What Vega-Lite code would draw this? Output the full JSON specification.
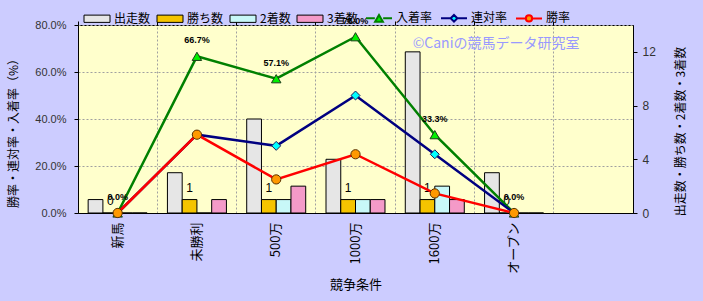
{
  "$schema": "https://vega.github.io/schema/vega-lite/v6.json",
  "width": 555,
  "height": 188,
  "autosize": {"type": "none"},
  "padding": {"left": 78, "top": 25, "right": 70, "bottom": 88},
  "background": "#CCCCFF",
  "config": {
    "font": "Noto Sans CJK JP",
    "view": {"fill": "#FFFFCC", "stroke": "#000000", "strokeWidth": 1},
    "axis": {
      "domainColor": "#000000",
      "tickColor": "#000000",
      "labelColor": "#333333",
      "titleColor": "#000000",
      "titleFontWeight": "normal",
      "gridColor": "#A0A0A0",
      "gridDash": [2, 2],
      "tickSize": 4
    }
  },
  "datasets": {
    "counts": [
      {"cond": "新馬", "series": "出走数", "count": 1},
      {"cond": "新馬", "series": "勝ち数", "count": 0},
      {"cond": "新馬", "series": "2着数", "count": 0},
      {"cond": "新馬", "series": "3着数", "count": 0},
      {"cond": "未勝利", "series": "出走数", "count": 3},
      {"cond": "未勝利", "series": "勝ち数", "count": 1},
      {"cond": "未勝利", "series": "2着数", "count": 0},
      {"cond": "未勝利", "series": "3着数", "count": 1},
      {"cond": "500万", "series": "出走数", "count": 7},
      {"cond": "500万", "series": "勝ち数", "count": 1},
      {"cond": "500万", "series": "2着数", "count": 1},
      {"cond": "500万", "series": "3着数", "count": 2},
      {"cond": "1000万", "series": "出走数", "count": 4},
      {"cond": "1000万", "series": "勝ち数", "count": 1},
      {"cond": "1000万", "series": "2着数", "count": 1},
      {"cond": "1000万", "series": "3着数", "count": 1},
      {"cond": "1600万", "series": "出走数", "count": 12},
      {"cond": "1600万", "series": "勝ち数", "count": 1},
      {"cond": "1600万", "series": "2着数", "count": 2},
      {"cond": "1600万", "series": "3着数", "count": 1},
      {"cond": "オープン", "series": "出走数", "count": 3},
      {"cond": "オープン", "series": "勝ち数", "count": 0},
      {"cond": "オープン", "series": "2着数", "count": 0},
      {"cond": "オープン", "series": "3着数", "count": 0}
    ],
    "rates": [
      {"cond": "新馬", "series": "入着率", "rate": 0},
      {"cond": "未勝利", "series": "入着率", "rate": 0.6667},
      {"cond": "500万", "series": "入着率", "rate": 0.5714},
      {"cond": "1000万", "series": "入着率", "rate": 0.75},
      {"cond": "1600万", "series": "入着率", "rate": 0.3333},
      {"cond": "オープン", "series": "入着率", "rate": 0},
      {"cond": "新馬", "series": "連対率", "rate": 0},
      {"cond": "未勝利", "series": "連対率", "rate": 0.3333},
      {"cond": "500万", "series": "連対率", "rate": 0.2857},
      {"cond": "1000万", "series": "連対率", "rate": 0.5},
      {"cond": "1600万", "series": "連対率", "rate": 0.25},
      {"cond": "オープン", "series": "連対率", "rate": 0},
      {"cond": "新馬", "series": "勝率", "rate": 0},
      {"cond": "未勝利", "series": "勝率", "rate": 0.3333},
      {"cond": "500万", "series": "勝率", "rate": 0.1429},
      {"cond": "1000万", "series": "勝率", "rate": 0.25},
      {"cond": "1600万", "series": "勝率", "rate": 0.0833},
      {"cond": "オープン", "series": "勝率", "rate": 0}
    ]
  },
  "layer": [
    {
      "data": {"name": "counts"},
      "layer": [
        {
          "mark": {"type": "bar", "stroke": "#000000", "strokeWidth": 1},
          "encoding": {
            "x": {
              "field": "cond",
              "type": "nominal",
              "scale": {"domain": ["新馬", "未勝利", "500万", "1000万", "1600万", "オープン", " "], "paddingInner": 0, "paddingOuter": 0},
              "sort": null,
              "axis": {
                "title": "競争条件",
                "titleFontSize": 13,
                "titleY": 71,
                "titleBaseline": "middle",
                "labelAngle": -90,
                "labelFontSize": 13,
                "labelColor": "#000000",
                "ticks": false,
                "tickSize": 0,
                "labelPadding": 9,
                "grid": false
              }
            },
            "xOffset": {
              "field": "series",
              "type": "nominal",
              "scale": {"domain": ["出走数", "勝ち数", "2着数", "3着数"], "paddingInner": 0, "paddingOuter": 0.688}
            },
            "y": {
              "field": "count",
              "type": "quantitative",
              "scale": {"domain": [0, 14]},
              "axis": {
                "orient": "right",
                "values": [0, 2, 4, 6, 8, 10, 12, 14],
                "grid": false,
                "labelFont": "Liberation Sans",
                "labelFontSize": 12,
                "labelPadding": 5,
                "title": "出走数・勝ち数・2着数・3着数",
                "titleFontSize": 12,
                "titleAngle": -90,
                "titleX": 47,
                "titleY": 106,
                "titleAlign": "center",
                "titleBaseline": "middle"
              }
            },
            "fill": {
              "field": "series",
              "type": "nominal",
              "scale": {
                "domain": ["出走数", "勝ち数", "2着数", "3着数", "入着率", "連対率", "勝率"],
                "range": ["#E6E6E6", "#F5C400", "#C8F8F8", "#F49AC8", "#00F000", "#00FFFF", "#FF9900"]
              },
              "legend": {
                "title": null,
                "orient": "none",
                "legendX": 5,
                "legendY": -21,
                "direction": "horizontal",
                "columns": 7,
                "symbolSize": 676,
                "symbolOpacity": 1,
                "labelFontSize": 12,
                "labelColor": "#000000",
                "labelOffset": 3,
                "columnPadding": 4,
                "padding": 0
              }
            }
          }
        },
        {
          "transform": [{"filter": "datum.series === '勝ち数'"}],
          "mark": {"type": "text", "dy": -12, "fontSize": 12, "font": "Liberation Sans", "color": "#000000"},
          "encoding": {
            "x": {"field": "cond", "type": "nominal", "scale": {"domain": ["新馬", "未勝利", "500万", "1000万", "1600万", "オープン", " "]}, "sort": null},
            "xOffset": {"field": "series", "type": "nominal", "scale": {"domain": ["出走数", "勝ち数", "2着数", "3着数"]}},
            "y": {"field": "count", "type": "quantitative", "scale": {"domain": [0, 14]}},
            "text": {"field": "count", "type": "quantitative"}
          }
        }
      ]
    },
    {
      "data": {"name": "rates"},
      "layer": [
        {
          "mark": {"type": "line", "strokeWidth": 2.5},
          "encoding": {
            "x": {
              "field": "cond",
              "type": "nominal",
              "scale": {"domain": ["新馬", "未勝利", "500万", "1000万", "1600万", "オープン", " "]},
              "sort": null,
              "axis": {
                "bandPosition": 0,
                "grid": true,
                "labels": false,
                "ticks": true,
                "domain": false,
                "title": null
              }
            },
            "y": {
              "field": "rate",
              "type": "quantitative",
              "scale": {"domain": [0, 0.8]},
              "axis": {
                "orient": "left",
                "values": [0, 0.1, 0.2, 0.3, 0.4, 0.5, 0.6, 0.7, 0.8],
                "format": ".1%",
                "grid": true,
                "labelFont": "Liberation Sans",
                "labelFontSize": 11,
                "labelPadding": 8,
                "title": "勝率・連対率・入着率（%）",
                "titleFontSize": 12,
                "titleAngle": -90,
                "titleX": -65,
                "titleY": 105,
                "titleAlign": "center",
                "titleBaseline": "middle"
              }
            },
            "stroke": {
              "field": "series",
              "type": "nominal",
              "scale": {
                "domain": ["出走数", "勝ち数", "2着数", "3着数", "入着率", "連対率", "勝率"],
                "range": ["#000000", "#000000", "#000000", "#000000", "#008000", "#000080", "#FF0000"]
              }
            }
          }
        },
        {
          "transform": [{"filter": "false"}],
          "mark": {"type": "point", "filled": true},
          "encoding": {
            "x": {"field": "cond", "type": "nominal", "scale": {"domain": ["新馬", "未勝利", "500万", "1000万", "1600万", "オープン", " "]}, "sort": null},
            "y": {"field": "rate", "type": "quantitative", "scale": {"domain": [0, 0.8]}},
            "shape": {
              "field": "series",
              "type": "nominal",
              "scale": {
                "domain": ["出走数", "勝ち数", "2着数", "3着数", "入着率", "連対率", "勝率"],
                "range": [
                  "M-1,-0.28H1V0.28H-1Z",
                  "M-1,-0.28H1V0.28H-1Z",
                  "M-1,-0.28H1V0.28H-1Z",
                  "M-1,-0.28H1V0.28H-1Z",
                  "M-1,0H-0.32M0.32,0H1M-0.3,0.26L0,-0.26L0.3,0.26Z",
                  "M-1,0H-0.28M0.28,0H1M0,-0.26L0.26,0L0,0.26L-0.26,0Z",
                  "M-1,0H-0.26M0.26,0H1M-0.24,0A0.24,0.24,0,1,0,0.24,0A0.24,0.24,0,1,0,-0.24,0Z"
                ]
              }
            },
            "strokeWidth": {
              "field": "series",
              "type": "nominal",
              "scale": {
                "type": "ordinal",
                "domain": ["出走数", "勝ち数", "2着数", "3着数", "入着率", "連対率", "勝率"],
                "range": [1, 1, 1, 1, 2, 2, 2]
              }
            }
          }
        },
        {
          "transform": [{"filter": "datum.series === '入着率'"}],
          "mark": {"type": "point", "shape": "triangle-up", "filled": true, "fill": "#00F000", "size": 90, "stroke": "#1A3A1A", "strokeWidth": 1, "opacity": 1},
          "encoding": {
            "x": {"field": "cond", "type": "nominal", "scale": {"domain": ["新馬", "未勝利", "500万", "1000万", "1600万", "オープン", " "]}, "sort": null},
            "y": {"field": "rate", "type": "quantitative", "scale": {"domain": [0, 0.8]}}
          }
        },
        {
          "transform": [{"filter": "datum.series === '連対率'"}],
          "mark": {"type": "point", "shape": "diamond", "filled": true, "fill": "#00FFFF", "size": 80, "stroke": "#1A1A5A", "strokeWidth": 1, "opacity": 1},
          "encoding": {
            "x": {"field": "cond", "type": "nominal", "scale": {"domain": ["新馬", "未勝利", "500万", "1000万", "1600万", "オープン", " "]}, "sort": null},
            "y": {"field": "rate", "type": "quantitative", "scale": {"domain": [0, 0.8]}}
          }
        },
        {
          "transform": [{"filter": "datum.series === '勝率'"}],
          "mark": {"type": "point", "shape": "circle", "filled": true, "fill": "#FF9900", "size": 85, "stroke": "#5A3000", "strokeWidth": 1, "opacity": 1},
          "encoding": {
            "x": {"field": "cond", "type": "nominal", "scale": {"domain": ["新馬", "未勝利", "500万", "1000万", "1600万", "オープン", " "]}, "sort": null},
            "y": {"field": "rate", "type": "quantitative", "scale": {"domain": [0, 0.8]}}
          }
        },
        {
          "transform": [{"filter": "datum.series === '入着率'"}],
          "mark": {"type": "text", "dy": -16, "fontSize": 9, "fontWeight": "bold", "font": "Liberation Sans", "color": "#000000"},
          "encoding": {
            "x": {"field": "cond", "type": "nominal", "scale": {"domain": ["新馬", "未勝利", "500万", "1000万", "1600万", "オープン", " "]}, "sort": null},
            "y": {"field": "rate", "type": "quantitative", "scale": {"domain": [0, 0.8]}},
            "text": {"field": "rate", "type": "quantitative", "format": ".1%"}
          }
        },
        {
          "data": {"values": [{"label": "©Caniの競馬データ研究室"}]},
          "mark": {"type": "text", "fontSize": 14, "color": "#9999FF", "dx": -18, "baseline": "middle", "align": "center"},
          "encoding": {
            "x": {"datum": "オープン"},
            "y": {"datum": 0.72},
            "text": {"field": "label", "type": "nominal"}
          }
        }
      ]
    }
  ],
  "resolve": {"scale": {"y": "independent"}, "axis": {"x": "independent"}}
}
